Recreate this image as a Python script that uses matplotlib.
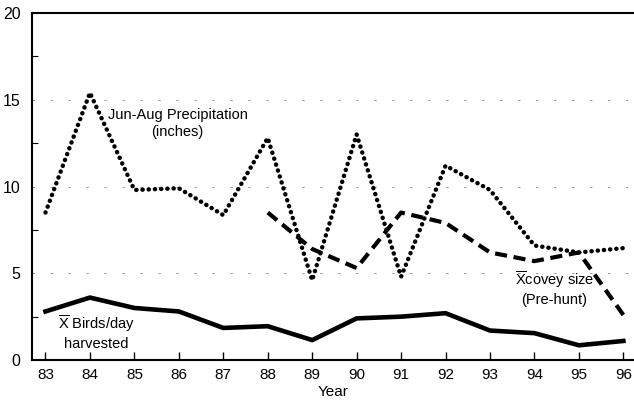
import matplotlib
matplotlib.use("Agg")
import matplotlib.pyplot as plt
from matplotlib.ticker import MultipleLocator

plt.rcParams['font.family'] = ['Liberation Sans', 'DejaVu Sans']
plt.rcParams['mathtext.fontset'] = 'custom'
plt.rcParams['mathtext.rm'] = 'Liberation Sans'

years = [83, 84, 85, 86, 87, 88, 89, 90, 91, 92, 93, 94, 95, 96]
precip = [8.5, 15.4, 9.8, 9.9, 8.35, 12.8, 4.6, 13.0, 4.8, 11.2, 9.8, 6.6, 6.2, 6.45]
covey_years = [88, 89, 90, 91, 92, 93, 94, 95, 96]
covey = [8.5, 6.4, 5.3, 8.5, 7.9, 6.2, 5.7, 6.2, 2.6]
birds = [2.8, 3.6, 3.0, 2.8, 1.85, 1.95, 1.15, 2.4, 2.5, 2.7, 1.7, 1.55, 0.85, 1.1]
xticklabels = [str(y) for y in years]

fig = plt.figure(figsize=(6.34, 4.05), dpi=100)
ax = fig.add_axes([0.050, 0.111, 0.950, 0.857])

# gridlines
for yv in [5, 10, 15]:
    ax.axhline(yv, color='#999999', lw=0.7, linestyle=(0, (2.5, 16)), zorder=1)

ax.plot(years, precip, color='black', lw=3.2, linestyle=(0, (0.05, 1.35)),
        dash_capstyle='round', zorder=3)
ax.plot(covey_years, covey, color='black', lw=3.0, linestyle=(0, (2.9, 1.6)),
        zorder=3)
ax.plot(years, birds, color='black', lw=3.3, solid_joinstyle='round', zorder=3)

ax.set_xlim(82.69, 96.24)
ax.set_ylim(0, 20)
ax.set_xticks(years)
ax.set_xticklabels(xticklabels)
ax.set_yticks([0, 5, 10, 15, 20])
ax.yaxis.set_minor_locator(MultipleLocator(2.5))
ax.tick_params(axis='x', direction='in', length=6, width=1, labelsize=11, pad=6)
ax.tick_params(axis='y', which='major', direction='in', length=0, labelsize=11.5, pad=8)
ax.tick_params(axis='y', which='minor', direction='in', length=4, width=0.8)
ax.spines['right'].set_visible(False)
for s in ['left', 'bottom', 'top']:
    ax.spines[s].set_linewidth(1.5)
ax.set_xlabel('Year', fontsize=11, labelpad=2)

ax.text(85.97, 13.65, 'Jun-Aug Precipitation\n(inches)', ha='center', va='center',
        fontsize=10.5, linespacing=1.3)
ax.text(94.45, 4.15, r'$\overline{\mathrm{X}}$covey size' + '\n(Pre-hunt)', ha='center',
        va='center', fontsize=10.5, linespacing=1.3)
ax.text(84.15, 1.6, r'$\overline{\mathrm{X}}$ Birds/day' + '\nharvested', ha='center',
        va='center', fontsize=10.5, linespacing=1.3)

fig.savefig('out.png', dpi=100)
